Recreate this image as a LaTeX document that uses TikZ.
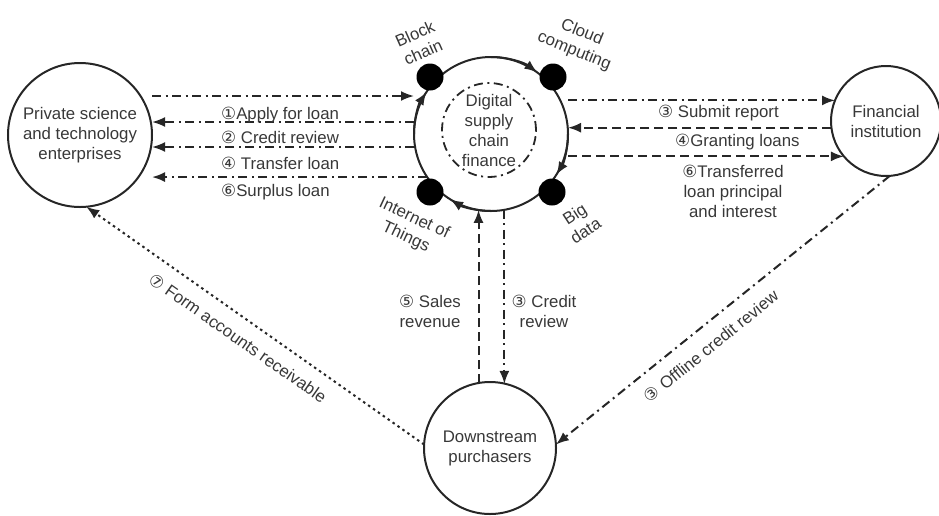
\documentclass[tikz,border=0pt]{standalone}
\usepackage{fontspec}
\setmainfont{Liberation Sans}
\newfontfamily\djv{DejaVu Sans}
\usetikzlibrary{arrows.meta,calc}
\definecolor{textgray}{HTML}{383838}
\definecolor{linegray}{HTML}{262626}
\begin{document}
\begin{tikzpicture}[x=1pt,y=1pt,
  font=\fontsize{16.8}{20}\selectfont,
  txt/.style={text=textgray, align=center, inner sep=0pt},
  bigc/.style={circle, draw=linegray, line width=2pt, outer sep=0pt, inner sep=0pt, text=textgray, align=center},
  bdot/.style={circle, fill=black, minimum size=27pt, inner sep=0pt},
  conn/.style={draw=linegray, line width=2pt, -{Latex[length=13pt,width=10pt]}},
  arcarrow/.style={draw=linegray, line width=2pt, -{Latex[length=13pt,width=10pt]}},
  dashdot/.style={dash pattern=on 9pt off 4.5pt on 2pt off 4.5pt},
  dashd/.style={dash pattern=on 9pt off 5pt},
  dotd/.style={dash pattern=on 2.5pt off 3.5pt},
]
\useasboundingbox (0,0) rectangle (939,-515);

% main circles
\node[bigc, minimum size=144pt] (L) at (80,-135) {Private science\\and technology\\enterprises};
\node[bigc, minimum size=154pt] (C) at (491,-134) {};
\node[circle, draw=linegray, line width=1.8pt, dashdot, minimum size=94pt, inner sep=0pt, outer sep=0pt, text=textgray, align=center] (I) at (489,-130) {Digital\\supply\\chain\\finance};
\node[bigc, minimum size=110pt] (F) at (886,-121) {Financial\\institution};
\node[bigc, minimum size=132pt] (D) at (490,-448) {Downstream\\purchasers};

% arrows along the central ring
\draw[arcarrow] ($(C)+(90:77)$) arc[start angle=90, end angle=53, radius=77];
\draw[arcarrow] ($(C)+(0:77)$) arc[start angle=0, end angle=-32, radius=77];
\draw[arcarrow] ($(C)+(270:77)$) arc[start angle=270, end angle=238, radius=77];
\draw[arcarrow] ($(C)+(180:77)$) arc[start angle=180, end angle=147, radius=77];

% technology dots
\node[bdot] (BC) at (430,-77) {};
\node[bdot] (CC) at (553,-77) {};
\node[bdot] (IT) at (430,-192) {};
\node[bdot] (BD) at (552,-192) {};

\node[txt, rotate=24] (tBC) at (419,-43) {Block\\chain};
\node[txt, rotate=-22] (tCC) at (578,-42) {Cloud\\computing};
\node[txt, rotate=-25] (tIT) at (410,-228) {Internet of\\Things};
\node[txt, rotate=33] (tBD) at (580,-222) {Big\\data};

% left connectors
\coordinate (h1) at (0,-96);
\coordinate (h2) at (0,-122);
\coordinate (h3) at (0,-147);
\draw[conn, dashdot] (L.east |- h1) -- (C.west |- h1);
\draw[conn, dashdot] (C.west |- h2) -- (L.east |- h2);
\draw[conn, dashdot] (C.west |- h3) -- (L.east |- h3);
\draw[conn, dashdot] (C.214) -- (L.east |- C.214);

\node[txt, anchor=base west] (l1) at (221,-119) {{\djv ①}Apply for loan};
\node[txt, anchor=base west] (l2) at (221,-143) {{\djv ②} Credit review};
\node[txt, anchor=base west] (l4) at (221,-169) {{\djv ④} Transfer loan};
\node[txt, anchor=base west] (l6) at (221,-196) {{\djv ⑥}Surplus loan};

% right connectors
\draw[conn, dashdot] (C.east |- F.158.7) -- (F.158.7);
\draw[conn, dashd] (F.187.3) -- (C.east |- F.187.3);
\draw[conn, dashd] (C.east |- F.220.9) -- (F.220.9);

\node[txt, anchor=base west] (r3) at (658,-117) {{\djv ③} Submit report};
\node[txt, anchor=base west] (r4) at (675,-146) {{\djv ④}Granting loans};
\node[txt] (r6) at (733,-191) {{\djv ⑥}Transferred\\loan principal\\and interest};

% vertical connectors
\draw[conn, dashd] (D.100.5) -- (D.100.5 |- C.260.3);
\draw[conn, dashdot] (C.280.5) -- (C.280.5 |- D.76.9);
\node[txt] (v5) at (430,-311) {{\djv ⑤} Sales\\revenue};
\node[txt] (v3) at (544,-311) {{\djv ③} Credit\\review};

% diagonal connectors
\draw[conn, dotd] (D.177) -- (L.275);
\draw[conn, dashdot] (F.274) -- (D.3);
\node[txt, rotate=-35] (d7) at (238,-338) {{\djv ⑦} Form accounts receivable};
\node[txt, rotate=39] (d3) at (711,-346) {{\djv ③} Offline credit review};
\end{tikzpicture}
\end{document}
